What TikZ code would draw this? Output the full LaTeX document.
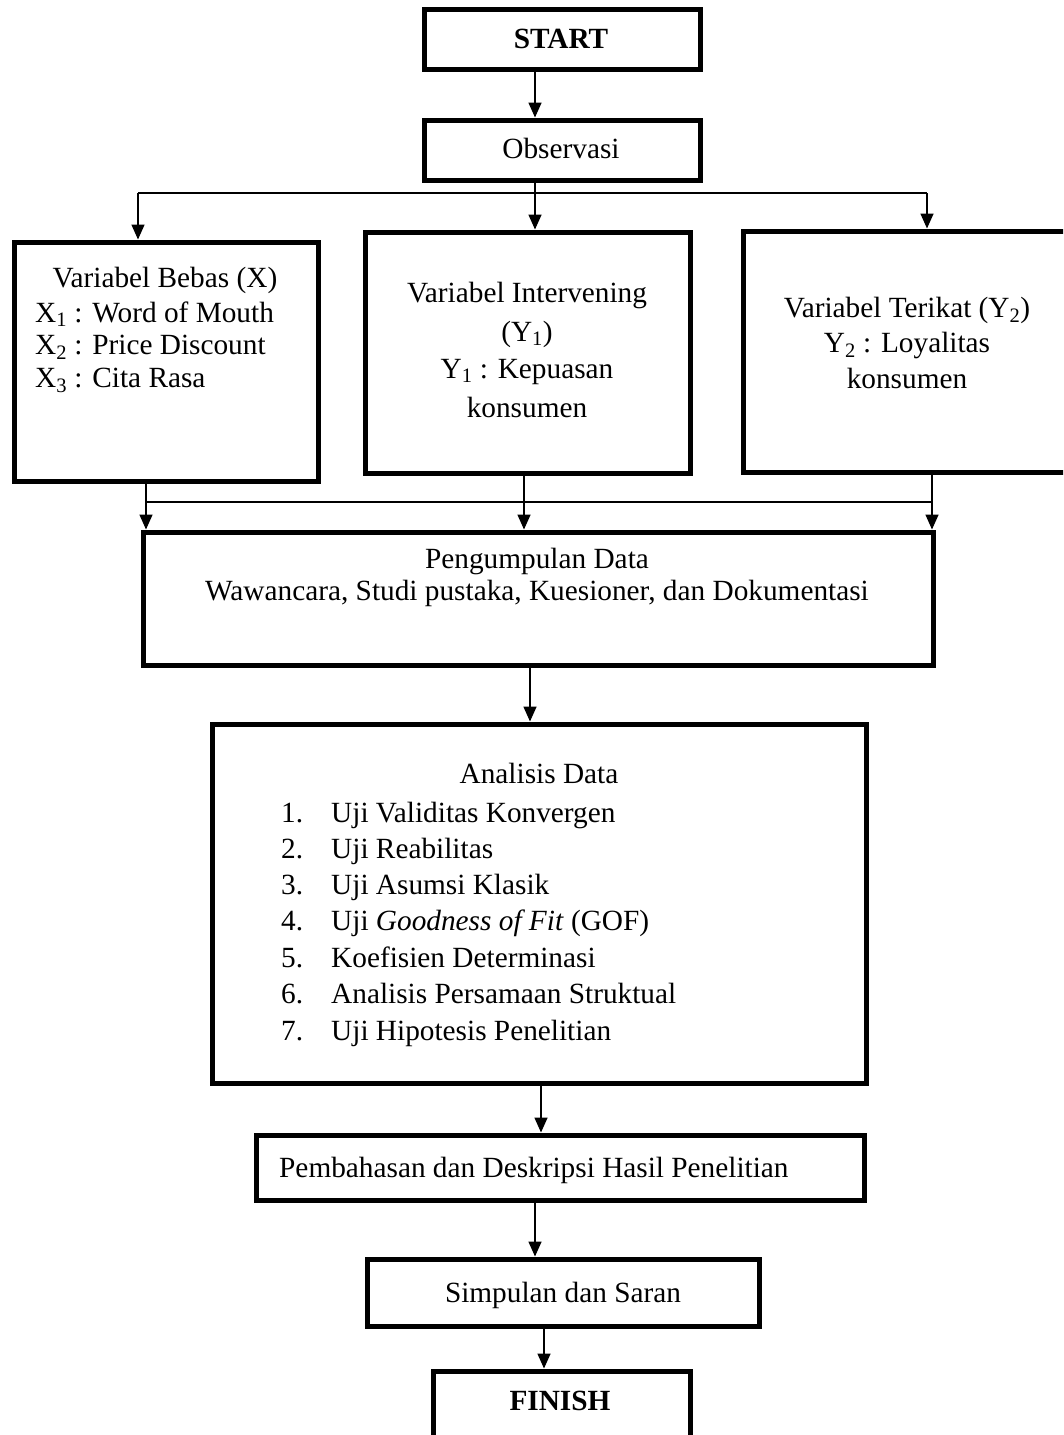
\documentclass[tikz,border=0pt]{standalone}
\usepackage{fontspec}
\setmainfont{Liberation Serif}
\usetikzlibrary{arrows.meta}
\tikzset{
  box/.style={draw, line width=5pt, inner sep=0pt},
  conn/.style={line width=1.6pt},
  arr/.style={conn, -{Triangle[length=15pt,width=13pt]}},
  txt/.style={inner sep=0pt, anchor=base},
  txtw/.style={inner sep=0pt, anchor=base west},
}
\begin{document}
\begin{tikzpicture}[x=1pt,y=-1pt,font=\fontsize{29.3pt}{34pt}\selectfont]
\useasboundingbox (0,0) rectangle (1063,1435);
\clip (0,0) rectangle (1063,1435);
% boxes
\node[box, minimum width=276, minimum height=60] (start) at (562,39) {};
\node[box, minimum width=276, minimum height=60] (obs) at (562,150) {};
\node[box, minimum width=304, minimum height=239] (bebas) at (166,361.5) {};
\node[box, minimum width=325, minimum height=241] (inter) at (527.5,352.5) {};
\node[box, minimum width=335, minimum height=241] (terikat) at (910.5,351.5) {};
\node[box, minimum width=790, minimum height=133] (peng) at (538,598.5) {};
\node[box, minimum width=654, minimum height=359] (anal) at (539,903.5) {};
\node[box, minimum width=608, minimum height=65] (pemb) at (560,1167.5) {};
\node[box, minimum width=392, minimum height=67] (simp) at (563,1292.5) {};
\node[box, minimum width=257, minimum height=87] (fin) at (561.5,1414.5) {};
% texts
\node[txt] (tstart) at (561,48) {\bfseries START};
\node[txt] (tobs) at (561,158) {Observasi};
\node[txt] (tb1) at (165,287) {Variabel Bebas (X)};
\node[txtw] (tb2) at (35,322) {X\textsubscript{1} : Word of Mouth};
\node[txtw] (tb3) at (35,354) {X\textsubscript{2} : Price Discount};
\node[txtw] (tb4) at (35,387) {X\textsubscript{3} : Cita Rasa};
\node[txt] (ti1) at (527,302) {Variabel Intervening};
\node[txt] (ti2) at (527,341) {(Y\textsubscript{1})};
\node[txt] (ti3) at (527,378) {Y\textsubscript{1} : Kepuasan};
\node[txt] (ti4) at (527,417) {konsumen};
\node[txt] (tt1) at (907,317) {Variabel Terikat (Y\textsubscript{2})};
\node[txt] (tt2) at (907,352) {Y\textsubscript{2} : Loyalitas};
\node[txt] (tt3) at (907,388) {konsumen};
\node[txt] (tp1) at (537,568) {Pengumpulan Data};
\node[txt] (tp2) at (537,600) {Wawancara, Studi pustaka, Kuesioner, dan Dokumentasi};
\node[txt] (ta0) at (539,783) {Analisis Data};
\node[txtw] (n1) at (281,822) {1.};
\node[txtw] (a1) at (331,822) {Uji Validitas Konvergen};
\node[txtw] (n2) at (281,858) {2.};
\node[txtw] (a2) at (331,858) {Uji Reabilitas};
\node[txtw] (n3) at (281,894) {3.};
\node[txtw] (a3) at (331,894) {Uji Asumsi Klasik};
\node[txtw] (n4) at (281,930) {4.};
\node[txtw] (a4) at (331,930) {Uji \textit{Goodness of Fit} (GOF)};
\node[txtw] (n5) at (281,967) {5.};
\node[txtw] (a5) at (331,967) {Koefisien Determinasi};
\node[txtw] (n6) at (281,1003) {6.};
\node[txtw] (a6) at (331,1003) {Analisis Persamaan Struktual};
\node[txtw] (n7) at (281,1040) {7.};
\node[txtw] (a7) at (331,1040) {Uji Hipotesis Penelitian};
\node[txtw] (tpem) at (279,1177) {Pembahasan dan Deskripsi Hasil Penelitian};
\node[txt] (tsim) at (563,1302) {Simpulan dan Saran};
\node[txt] (tfin) at (560,1410) {\bfseries FINISH};
% connector coordinates
\coordinate (xa) at (535,0);
\coordinate (hl) at (138,193);
\coordinate (hr) at (927,193);
\coordinate (bl) at (146,502);
\coordinate (bm) at (524,502);
\coordinate (br) at (932,502);
\coordinate (xb) at (530,0);
\coordinate (xc) at (541,0);
\coordinate (xd) at (535,0);
\coordinate (xe) at (544,0);
% connectors
\draw[arr] (start.south -| xa) -- (obs.north -| xa);
\draw[arr] (obs.south -| xa) -- (inter.north -| xa);
\draw[conn] (hl) -- (hr);
\draw[arr] (hl) -- (hl |- bebas.north);
\draw[arr] (hr) -- (hr |- terikat.north);
\draw[arr] (bebas.south -| bl) -- (peng.north -| bl);
\draw[arr] (inter.south -| bm) -- (peng.north -| bm);
\draw[arr] (terikat.south -| br) -- (peng.north -| br);
\draw[conn] (bl) -- (br);
\draw[arr] (peng.south -| xb) -- (anal.north -| xb);
\draw[arr] (anal.south -| xc) -- (pemb.north -| xc);
\draw[arr] (pemb.south -| xd) -- (simp.north -| xd);
\draw[arr] (simp.south -| xe) -- (fin.north -| xe);
\end{tikzpicture}
\end{document}
